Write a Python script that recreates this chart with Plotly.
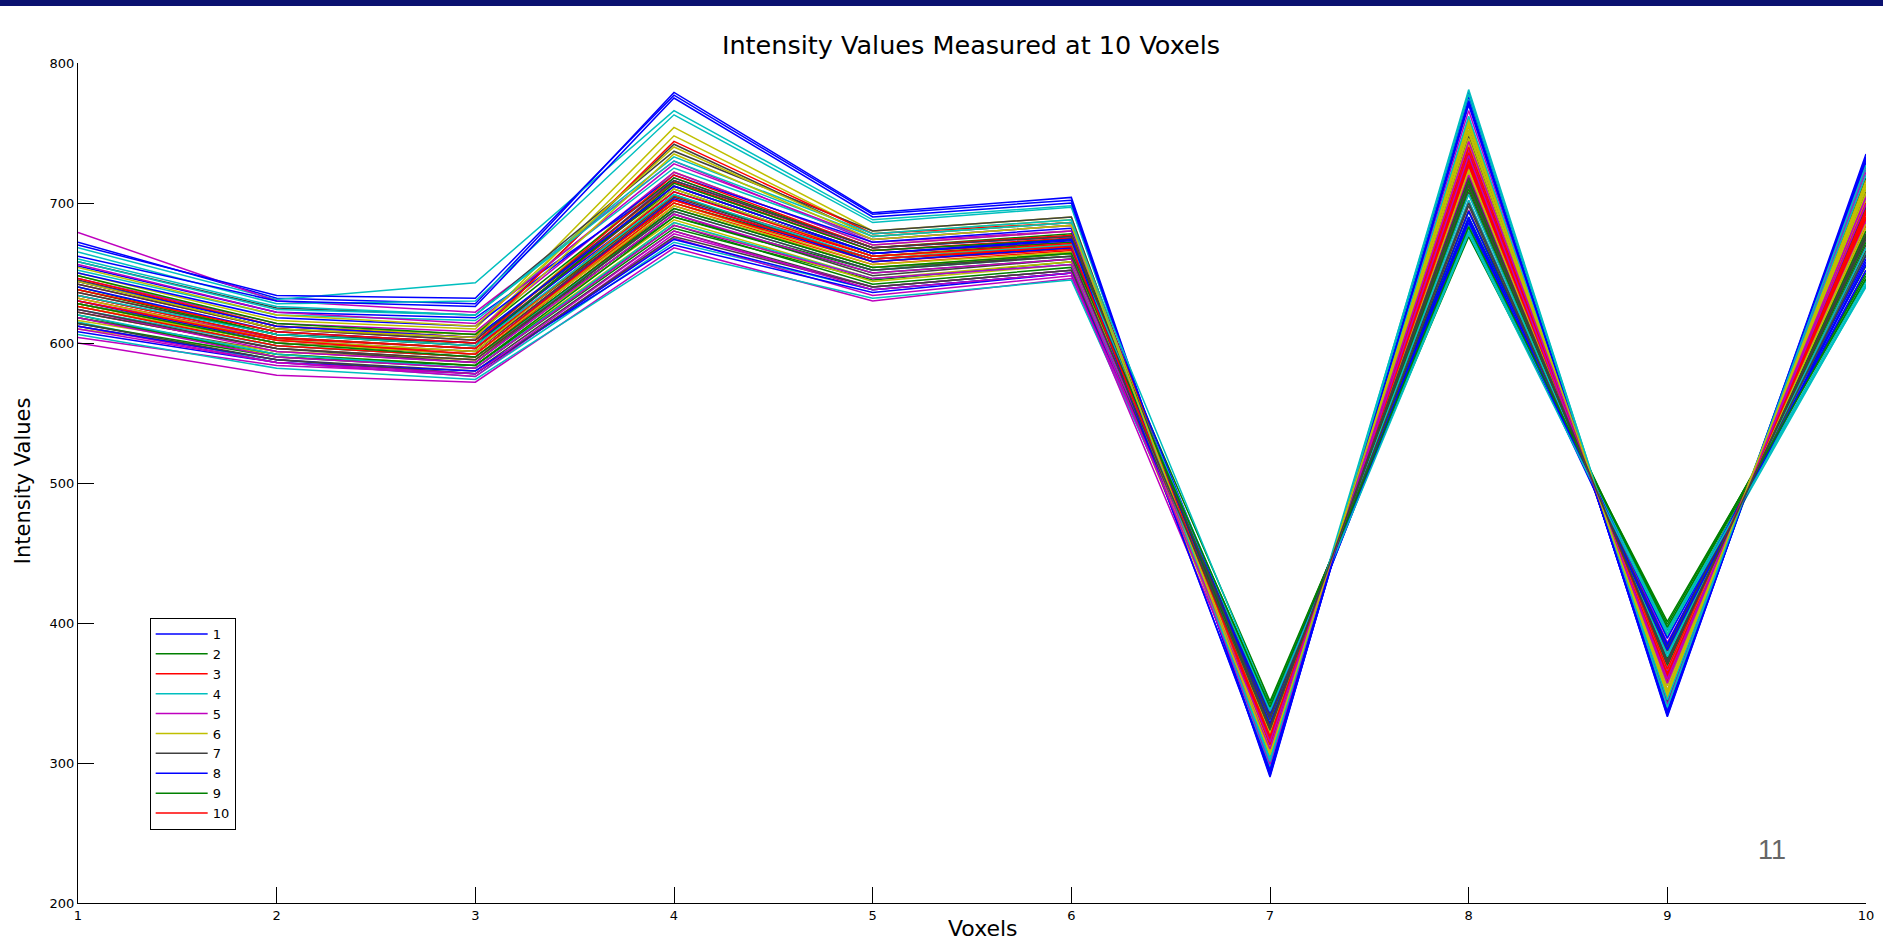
import plotly.graph_objects as go

# ---------------- data ----------------
voxels = [1, 2, 3, 4, 5, 6, 7, 8, 9, 10]
y_ticks = [200, 300, 400, 500, 600, 700, 800]
legend_labels = ["1", "2", "3", "4", "5", "6", "7", "8", "9", "10"]
matlab_colors = ["#0000FF", "#008000", "#FF0000", "#00BFBF", "#BF00BF", "#BFBF00", "#404040"]

s01 = [672, 632, 628, 779, 693, 704, 290, 779, 333, 735]
s02 = [640, 606, 600, 700, 660, 668, 318, 728, 366, 690]
s03 = [632, 603, 596, 705, 662, 670, 312, 735, 360, 696]
s04 = [668, 631, 643, 766, 688, 698, 296, 781, 338, 724]
s05 = [679, 630, 622, 730, 672, 680, 300, 760, 342, 722]
s06 = [650, 616, 610, 754, 680, 690, 304, 760, 346, 714]
s07 = [645, 612, 606, 742, 676, 686, 306, 748, 350, 708]
s08 = [670, 634, 632, 777, 692, 702, 291, 776, 334, 733]
s09 = [626, 598, 590, 690, 652, 664, 338, 690, 395, 655]
s10 = [636, 606, 598, 712, 664, 672, 315, 732, 362, 694]
s11 = [665, 628, 630, 763, 686, 697, 297, 774, 339, 730]
s12 = [600, 577, 572, 668, 630, 646, 330, 702, 378, 664]
s13 = [648, 612, 606, 748, 678, 688, 305, 758, 348, 712]
s14 = [658, 625, 620, 737, 680, 690, 302, 755, 344, 718]
s15 = [662, 630, 626, 775, 690, 700, 292, 773, 335, 731]
s16 = [620, 590, 582, 682, 645, 658, 342, 680, 399, 648]
s17 = [628, 600, 594, 702, 660, 668, 320, 725, 366, 688]
s18 = [615, 586, 576, 672, 638, 650, 335, 684, 390, 641]
s19 = [604, 584, 578, 675, 634, 648, 332, 695, 386, 652]
s20 = [638, 608, 600, 722, 670, 680, 310, 750, 355, 704]
s21 = [612, 588, 580, 680, 640, 652, 326, 708, 372, 670]
s22 = [655, 622, 618, 716, 668, 676, 330, 688, 385, 660]
s23 = [644, 610, 604, 710, 662, 672, 344, 676, 401, 645]
s24 = [622, 596, 588, 698, 656, 666, 323, 720, 370, 684]
s25 = [652, 620, 616, 725, 674, 684, 340, 680, 396, 640]
s26 = [630, 604, 596, 718, 666, 674, 316, 738, 362, 698]
s27 = [610, 592, 584, 686, 644, 656, 312, 742, 358, 702]
s28 = [618, 594, 586, 692, 648, 660, 328, 712, 374, 674]
s29 = [608, 586, 580, 670, 636, 650, 333, 686, 384, 656]
s30 = [634, 604, 596, 706, 658, 668, 336, 694, 392, 650]
s31 = [642, 610, 602, 715, 666, 675, 318, 728, 364, 692]
s32 = [624, 598, 590, 694, 652, 662, 338, 682, 394, 644]
s33 = [646, 614, 608, 722, 670, 680, 308, 745, 352, 706]
s34 = [616, 594, 588, 688, 646, 658, 322, 722, 368, 682]
s35 = [636, 606, 600, 712, 664, 674, 314, 734, 360, 697]
s36 = [650, 618, 612, 720, 672, 682, 329, 690, 383, 662]
s37 = [614, 590, 584, 684, 642, 654, 321, 718, 369, 680]
s38 = [646, 612, 604, 744, 678, 686, 314, 740, 358, 700]
s39 = [606, 582, 574, 665, 632, 645, 330, 702, 378, 664]
s40 = [656, 622, 614, 728, 674, 684, 299, 766, 341, 726]
s41 = [626, 600, 592, 700, 656, 665, 311, 746, 356, 707]
s42 = [628, 602, 594, 704, 660, 670, 325, 716, 372, 677]
s43 = [640, 608, 600, 708, 664, 673, 295, 770, 337, 729]
s44 = [618, 592, 584, 690, 650, 660, 327, 710, 375, 672]
s45 = [626, 598, 590, 700, 658, 667, 317, 731, 365, 690]
s46 = [660, 626, 620, 733, 678, 688, 303, 762, 345, 720]
s47 = [612, 586, 576, 678, 640, 652, 320, 720, 368, 686]
s48 = [632, 602, 594, 710, 662, 670, 307, 752, 350, 710]
s49 = [622, 596, 586, 696, 654, 662, 334, 700, 382, 666]
s50 = [612, 588, 578, 674, 638, 650, 336, 688, 389, 652]
s51 = [638, 606, 598, 714, 666, 674, 324, 714, 371, 676]
s52 = [634, 604, 596, 708, 662, 671, 313, 736, 361, 695]
s53 = [620, 592, 582, 686, 646, 656, 326, 706, 376, 668]
s54 = [624, 594, 586, 692, 650, 660, 319, 726, 366, 688]
s55 = [654, 620, 612, 740, 676, 686, 309, 755, 352, 713]
s56 = [614, 588, 578, 676, 640, 652, 331, 698, 380, 663]
s57 = [630, 600, 592, 703, 658, 668, 328, 694, 381, 658]
s58 = [648, 614, 606, 718, 668, 678, 323, 716, 370, 678]
s59 = [638, 608, 600, 720, 668, 677, 316, 730, 363, 693]
s60 = [634, 606, 598, 706, 660, 670, 337, 678, 392, 642]
s61 = [610, 586, 578, 680, 638, 650, 310, 744, 357, 704]
s62 = [628, 600, 592, 698, 654, 664, 321, 724, 367, 685]
s63 = [642, 610, 602, 716, 668, 676, 326, 713, 373, 675]
s64 = [644, 612, 604, 712, 664, 674, 294, 772, 336, 732]
s65 = [628, 600, 590, 696, 654, 664, 340, 683, 397, 646]
s66 = [630, 602, 592, 702, 660, 669, 319, 727, 367, 689]
s67 = [658, 624, 620, 730, 676, 686, 301, 778, 340, 727]
s68 = [618, 590, 582, 684, 646, 656, 315, 734, 360, 699]
s69 = [644, 610, 604, 735, 674, 684, 306, 757, 349, 716]
s70 = [624, 596, 588, 694, 652, 662, 324, 718, 371, 678]

series = [s01, s02, s03, s04, s05, s06, s07, s08, s09, s10,
          s11, s12, s13, s14, s15, s16, s17, s18, s19, s20,
          s21, s22, s23, s24, s25, s26, s27, s28, s29, s30,
          s31, s32, s33, s34, s35, s36, s37, s38, s39, s40,
          s41, s42, s43, s44, s45, s46, s47, s48, s49, s50,
          s51, s52, s53, s54, s55, s56, s57, s58, s59, s60,
          s61, s62, s63, s64, s65, s66, s67, s68, s69, s70]

# ---------------- figure ----------------
W, H = 1883, 943
ML, MR, MT, MB = 78, 9, 63, 40
PW, PH = W - ML - MR, H - MT - MB


def px_x(px):
    return (px - ML) / PW


def px_y(py):
    return 1 - (py - MT) / PH


fig = go.Figure()
for i, vals in enumerate(series):
    fig.add_trace(go.Scatter(
        x=voxels, y=vals, mode="lines",
        line=dict(color=matlab_colors[i % len(matlab_colors)], width=1.5),
        name=legend_labels[i] if i < len(legend_labels) else "",
        showlegend=i < len(legend_labels),
        hoverinfo="skip",
    ))

axis_font = dict(family="DejaVu Sans, Arial, sans-serif", size=13, color="#000000")

fig.update_layout(
    width=W, height=H,
    margin=dict(l=ML, r=MR, t=MT, b=MB, pad=0),
    paper_bgcolor="#FFFFFF", plot_bgcolor="#FFFFFF",
    title=dict(text="Intensity Values Measured at 10 Voxels",
               x=px_x(975), xref="paper", xanchor="center",
               y=1 - 45 / H, yref="container", yanchor="middle",
               font=dict(family="DejaVu Sans, Arial, sans-serif", size=25.5, color="#000000")),
    xaxis=dict(range=[1, 10], tickvals=voxels, ticktext=[str(v) for v in voxels],
               ticks="inside", ticklen=16, tickwidth=1, tickcolor="#000000",
               showline=True, linecolor="#000000", linewidth=1,
               showgrid=False, zeroline=False, tickfont=axis_font),
    yaxis=dict(range=[200, 800], tickvals=y_ticks, ticktext=[str(v) for v in y_ticks],
               ticks="inside", ticklen=16, tickwidth=1, tickcolor="#000000",
               showline=True, linecolor="#000000", linewidth=1,
               showgrid=False, zeroline=False, tickfont=axis_font),
    legend=dict(x=px_x(150), y=px_y(618), xanchor="left", yanchor="top",
                bgcolor="#FFFFFF", bordercolor="#000000", borderwidth=1,
                font=dict(family="DejaVu Sans, Arial, sans-serif", size=13, color="#000000"),
                itemwidth=52, tracegroupgap=0),
    showlegend=True,
)

# navy slide bar at the very top
fig.add_shape(type="rect", xref="paper", yref="paper",
              x0=-0.1, x1=1.1, y0=px_y(6), y1=px_y(-20),
              fillcolor="#0B1170", line=dict(width=0), layer="above")

# axis titles and slide number
fig.add_annotation(text="Intensity Values", xref="paper", yref="paper",
                   x=px_x(23), y=px_y(481), textangle=-90, showarrow=False,
                   xanchor="center", yanchor="middle",
                   font=dict(family="DejaVu Sans, Arial, sans-serif", size=21, color="#000000"))
fig.add_annotation(text="Voxels", xref="paper", yref="paper",
                   x=px_x(987), y=px_y(929), showarrow=False,
                   xanchor="center", yanchor="middle",
                   font=dict(family="DejaVu Sans, Arial, sans-serif", size=22, color="#000000"))
fig.add_annotation(text="11", xref="paper", yref="paper",
                   x=px_x(1780), y=px_y(850), showarrow=False,
                   xanchor="center", yanchor="middle",
                   font=dict(family="Liberation Sans, Arial, sans-serif", size=27, color="#666666"))

fig.write_html("out.html")
